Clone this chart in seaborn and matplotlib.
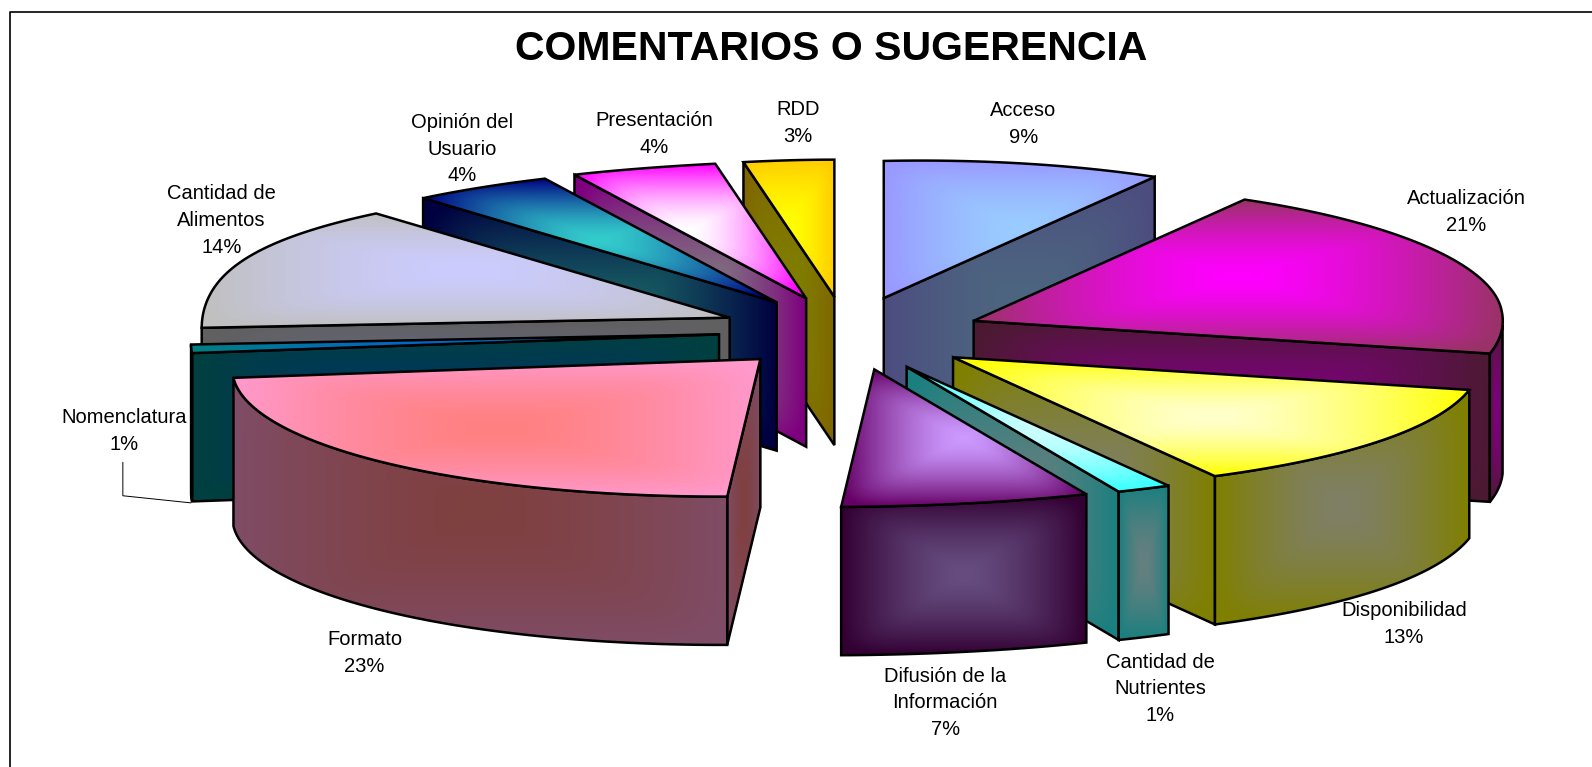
import numpy as np
import matplotlib
matplotlib.use('Agg')
import matplotlib.pyplot as plt
import seaborn as sns
from matplotlib.patches import Polygon

names = ['Acceso', 'Actualización', 'Disponibilidad', 'Cantidad de\nNutrientes',
         'Difusión de la\nInformación', 'Formato', 'Nomenclatura', 'Cantidad de\nAlimentos',
         'Opinión del\nUsuario', 'Presentación', 'RDD']
# the labels are rounded, slice sizes read a little finer from the picture
values = [9, 21, 12.8, 1.49, 6.71, 23, 1, 14, 4, 4, 3]

outer_colors = ['#9999ff', '#993366', '#ffff00', '#33ffff', '#660066', '#ff99cc',
                '#008080', '#c0c0c0', '#000080', '#ff00ff', '#ffcc00']
center_colors = ['#99ccff', '#ff00ff', '#ffffcc', '#ccffff', '#cc99ff', '#ff8080',
                 '#0066cc', '#ccccff', '#33cccc', '#ffffff', '#ffff00']

# label centres, in the same pixel space as the axes
label_pos = [(1008, 122), (1444, 209), (1383, 614), (1143, 678), (931, 692),
             (359, 643), (122, 424), (218, 217), (455, 147), (644, 132), (786, 121)]

# pie geometry
CX, CY = 838, 328
RX, RY = 520, 135
EX, EY = 130, 36
SHEAR = 4
TILT = 10
DEPTH = 146
LW = 1.8

sns.set_theme(style='white')
plt.rcParams['font.family'] = ['Liberation Sans', 'DejaVu Sans']

fig = plt.figure(figsize=(15.92, 7.67), dpi=100)
ax = fig.add_axes([0, 0, 1, 1])
ax.set_axis_off()
zorder = [1]


def shade(color, amount):
    return tuple(c * amount for c in matplotlib.colors.to_rgb(color))


def gradient_face(xs, ys, outer, center):
    xs, ys = np.asarray(xs), np.asarray(ys)
    cmap = sns.blend_palette([center, outer], as_cmap=True)
    u, v = np.meshgrid(np.linspace(-1, 1, 128), np.linspace(-1, 1, 128))
    t = np.clip((np.abs(u)**8 + np.abs(v)**8)**(1 / 8), 0, 1)**1.5
    poly = Polygon(np.column_stack([xs, ys]), closed=True, facecolor='none', edgecolor='black',
                   linewidth=LW, joinstyle='miter', zorder=zorder[0] + 1)
    ax.add_patch(poly)
    im = ax.imshow(t, cmap=cmap, vmin=0, vmax=1, aspect='auto', interpolation='bilinear',
                   extent=[xs.min(), xs.max(), ys.max(), ys.min()], zorder=zorder[0])
    im.set_clip_path(poly)
    zorder[0] += 2


def rim(theta, apex):
    theta = np.radians(theta)
    s, c = np.sin(theta), np.cos(theta)
    # the chart's perspective does not stretch all four quadrants alike
    back_left = 1 + 0.21 * s**2 * c**2 - 0.13 * (np.maximum(c - 0.9, 0) / 0.1)**2
    stretch = np.where(s >= 0,
                       np.where(c >= 0, 1 - 0.05 * c, 1 - 0.06 * c + 0.1 * c**2),
                       np.where(c >= 0, back_left, 1.0))
    tilt = np.where((s < 0) & (c > 0), 1 - c, 1.0)
    x = apex[0] + RX * s * stretch
    y = apex[1] - RY * c - TILT * s * tilt
    return x, y


def draw_wedge(start, end, outer, center):
    mid = np.radians((start + end) / 2)
    apex = (CX + EX * np.sin(mid) - SHEAR * np.cos(mid), CY - EY * np.cos(mid))
    wall_outer, wall_center = shade(outer, 0.5), shade(center, 0.5)

    # flat side of the slice, only when it looks at the viewer
    for angle, seen in [(start, np.sin(np.radians(start)) < 0), (end, np.sin(np.radians(end)) > 0)]:
        if seen:
            ex, ey = rim(angle, apex)
            gradient_face([apex[0], ex, ex, apex[0]],
                          [apex[1], ey, ey + DEPTH, apex[1] + DEPTH], wall_outer, wall_center)

    # curved outer wall, starts at the rightmost point of the rim
    lo, hi = max(start, 96), min(end, 270)
    if hi > lo:
        x, y = rim(np.linspace(lo, hi, 80), apex)
        gradient_face(np.r_[x, x[::-1]], np.r_[y, y[::-1] + DEPTH], wall_outer, wall_center)

    # top
    x, y = rim(np.linspace(start, end, 120), apex)
    gradient_face(np.r_[apex[0], x], np.r_[apex[1], y], outer, center)


edges = np.cumsum([0] + values) / sum(values) * 360
mids = (edges[:-1] + edges[1:]) / 2
order = np.argsort(-np.cos(np.radians(mids)))

# leader of the Nomenclatura label
ax.plot([121, 121, 188], [455, 488, 495], color='black', lw=0.7, zorder=0.5)

for i in order:
    draw_wedge(edges[i], edges[i + 1], outer_colors[i], center_colors[i])

for name, val, pos in zip(names, values, label_pos):
    ax.text(pos[0], pos[1], f'{name}\n{val:.0f}%', ha='center', va='center', fontsize=14.5,
            linespacing=1.51, color='black', zorder=500)

ax.text(819, 48, 'COMENTARIOS O SUGERENCIA', ha='center', va='center', fontsize=29.5,
        fontweight='bold', color='black', zorder=500)

# chart frame, only left and top make it into the picture
ax.plot([10, 10, 1568], [755, 11.5, 11.5], color='black', lw=1.2, zorder=500)

ax.set_xlim(0, 1568)
ax.set_ylim(755, 0)
fig.savefig('out.png', dpi=100, facecolor='white')
